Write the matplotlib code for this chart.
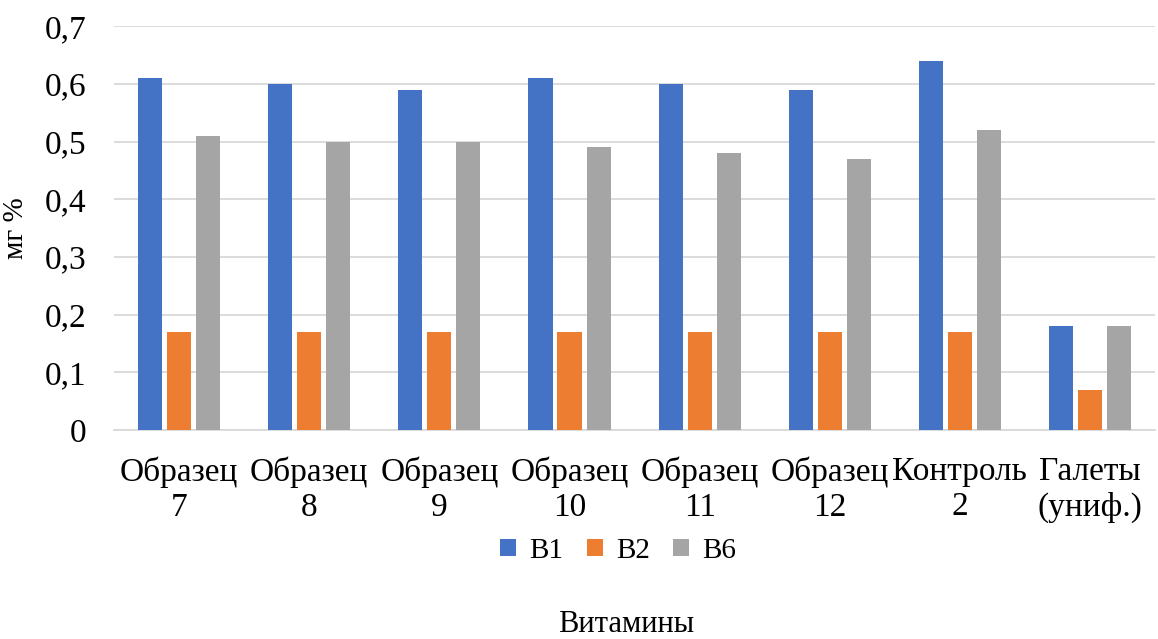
import matplotlib
matplotlib.use("Agg")
import matplotlib.pyplot as plt
import numpy as np

categories = ["Образец\n7", "Образец\n8", "Образец\n9", "Образец\n10",
              "Образец\n11", "Образец\n12", "Контроль\n2", "Галеты\n(униф.)"]
b1 = [0.61, 0.60, 0.59, 0.61, 0.60, 0.59, 0.64, 0.18]
b2 = [0.17, 0.17, 0.17, 0.17, 0.17, 0.17, 0.17, 0.07]
b6 = [0.51, 0.50, 0.50, 0.49, 0.48, 0.47, 0.52, 0.18]
series_names = ["B1", "B2", "B6"]
colors = ["#4472C4", "#ED7D31", "#A5A5A5"]
yticks = [0, 0.1, 0.2, 0.3, 0.4, 0.5, 0.6, 0.7]
ytick_labels = ["0", "0,1", "0,2", "0,3", "0,4", "0,5", "0,6", "0,7"]

plt.rcParams["font.family"] = ["Liberation Serif", "DejaVu Serif"]

fig = plt.figure(figsize=(11.58, 6.39), dpi=100)
ax = fig.add_axes([0.0985, 0.327, 0.899, 0.632])

x = np.arange(len(categories))
width = 0.185
step = 0.223
for i, (vals, name, c) in enumerate(zip([b1, b2, b6], series_names, colors)):
    ax.bar(x + (i - 1) * step, vals, width=width, color=c, label=name, zorder=3)

ax.set_xlim(-0.5, len(categories) - 0.5)
ax.set_ylim(0, 0.7)
ax.set_yticks(yticks)
ax.set_yticklabels(ytick_labels, fontsize=24)
ax.set_xticks(x)
ax.set_xticklabels(categories, fontsize=24, linespacing=1.2)
ax.tick_params(axis="both", length=0)
ax.tick_params(axis="x", pad=19)
ax.tick_params(axis="y", pad=20)
ax.yaxis.grid(True, color="#D9D9D9", linewidth=1.3, zorder=0)
for s in ["top", "right", "left"]:
    ax.spines[s].set_visible(False)
ax.spines["bottom"].set_color("#D9D9D9")
ax.spines["bottom"].set_linewidth(1.3)
ax.set_ylabel("мг %", fontsize=21)
ax.yaxis.set_label_coords(-0.082, 0.5)

fig.text(0.541, 0.0, "Витамины", ha="center", va="bottom", fontsize=22)
leg = fig.legend(loc="center", bbox_to_anchor=(0.534, 0.138), ncol=3, frameon=False,
                 fontsize=21, handlelength=0.55, handleheight=0.55,
                 handletextpad=0.45, columnspacing=0.8)

fig.savefig("out.png", dpi=100)
